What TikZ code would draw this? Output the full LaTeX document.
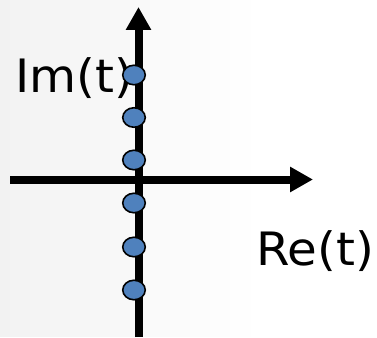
\documentclass[tikz,border=0pt]{standalone}
\usepackage{fontspec}
\usepackage{tikz}
\usetikzlibrary{shapes.geometric, arrows.meta, positioning, calc}
\newfontfamily\axisfont[FakeStretch=1.05]{DejaVu Sans}
\definecolor{poleblue}{RGB}{79, 129, 189}

\begin{document}
\begin{tikzpicture}[
  x=1pt, y=-1pt,
  axis/.style   = {line width=8pt, color=black,
                   -{Triangle[length=23pt, width=24pt]}},
  pole/.style   = {ellipse, draw=black, line width=1.6pt, fill=poleblue,
                   minimum width=22.5pt, minimum height=19.5pt, inner sep=0pt},
  axlabel/.style = {font=\axisfont\fontsize{46}{50}\selectfont,
                   anchor=base west, inner sep=0pt},
]

%% Background
\fill[white] (0,0) rectangle (377,337);
\foreach \k in {0,...,24}
  \fill[black!\fpeval{5-0.2*\k}] (\k*10,0) rectangle (\k*10+10.5,337);
\useasboundingbox (0,0) rectangle (377,337);

%% Axes
\coordinate (reStart) at (10,179.5);
\coordinate (reEnd)   at (313,179.5);
\coordinate (imStart) at (138.5,337);
\coordinate (imEnd)   at (138.5,7);
\draw[axis] (reStart) -- (reEnd);
\draw[axis] (imStart) -- (imEnd);

%% Labels
\node[axlabel] (imLabel) at (15,92)  {Im(t)};
\node[axlabel] (reLabel) at (256,265) {Re(t)};

%% Poles
\foreach \i/\y in {1/75, 2/117.5, 3/160, 4/203, 5/247, 6/290}
  \node[pole] (p\i) at (134,\y) {};

\end{tikzpicture}
\end{document}
